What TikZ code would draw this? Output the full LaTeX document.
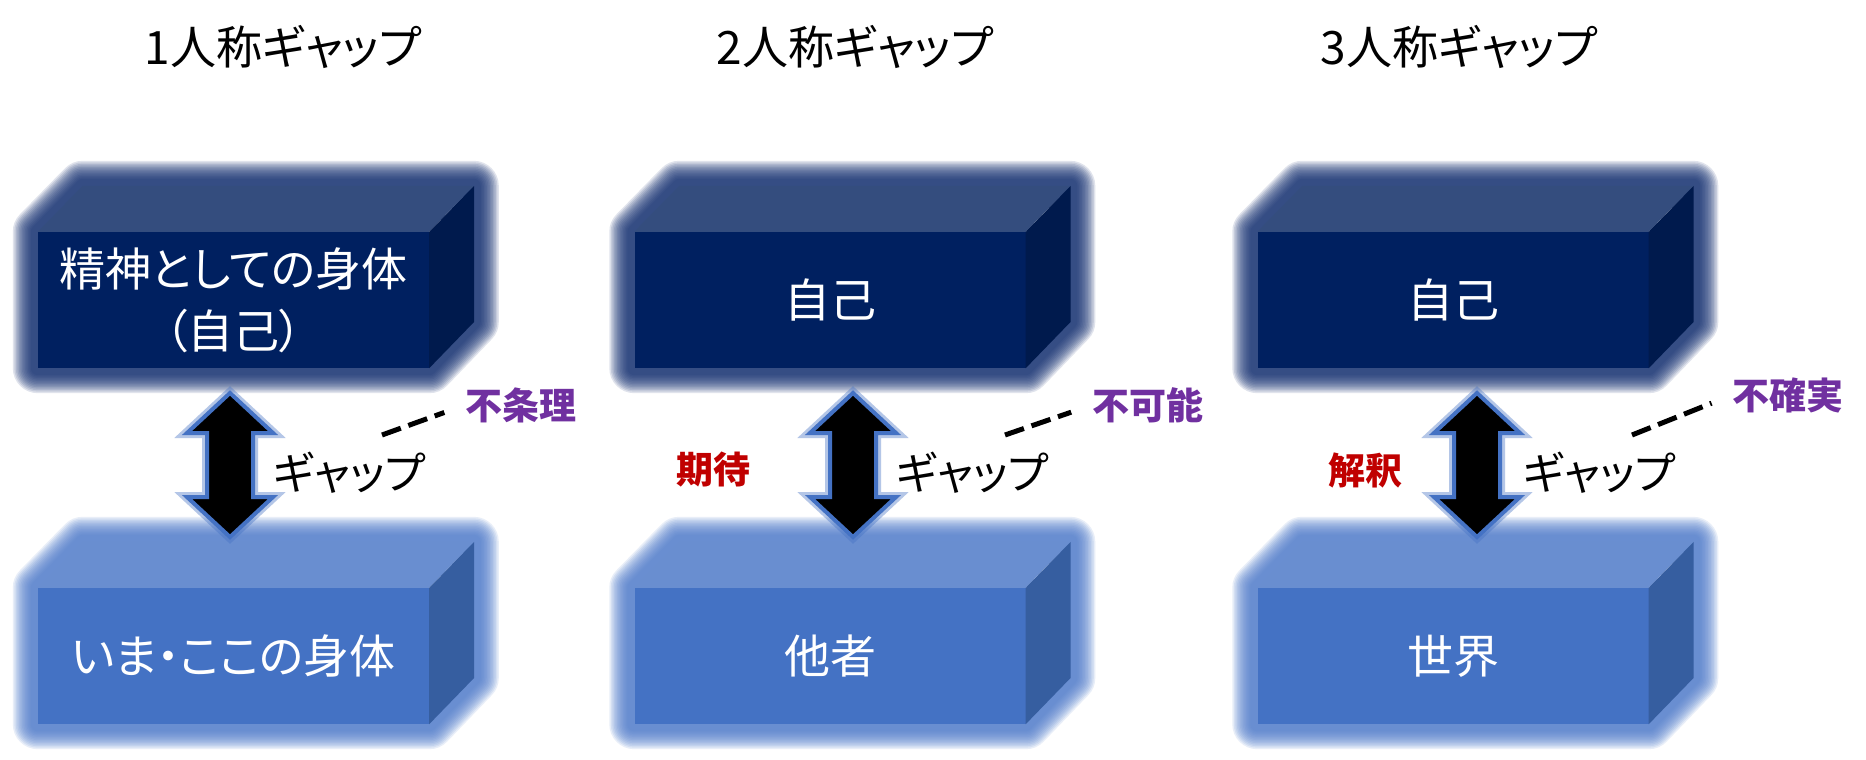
\documentclass[tikz,border=0pt]{standalone}
\usepackage{fontspec}
\setmainfont{Noto Sans CJK JP}[RawFeature=+palt]
\usetikzlibrary{backgrounds}

\definecolor{darkfront}{RGB}{0,32,96}
\definecolor{darktop}{RGB}{52,77,126}
\definecolor{darkside}{RGB}{0,26,77}
\definecolor{darkglow}{RGB}{18,46,112}
\definecolor{lightfront}{RGB}{68,114,196}
\definecolor{lighttop}{RGB}{105,142,208}
\definecolor{lightside}{RGB}{54,94,160}
\definecolor{lightglow}{RGB}{79,124,204}
\definecolor{arrowblue}{RGB}{68,114,196}
\definecolor{notepurple}{RGB}{112,48,160}
\definecolor{notered}{RGB}{192,0,0}

\newcommand{\titlefont}{\fontsize{46}{54}\selectfont}
\newcommand{\boxfont}{\fontsize{46}{62}\selectfont}
\newcommand{\gapfont}{\fontsize{44}{52}\selectfont}
\newcommand{\notefont}{\fontsize{37}{44}\selectfont\bfseries}

\begin{document}
\begin{tikzpicture}[
    x=1pt, y=-1pt,
    title/.style={font=\titlefont, inner sep=0pt},
    darkbox/.style={
        rectangle, fill=darkfront, minimum width=391pt, minimum height=136pt,
        inner sep=0pt, text=white, align=center, font=\boxfont
    },
    lightbox/.style={darkbox, fill=lightfront},
    gaplabel/.style={font=\gapfont, inner sep=0pt, anchor=west},
    reason/.style={font=\notefont, text=notepurple, inner sep=0pt, anchor=west},
    attitude/.style={font=\notefont, text=notered, inner sep=0pt},
    bigarrow/.style={
        fill=black, draw=arrowblue, line width=4pt, line join=miter,
        preaction={draw=arrowblue, line width=10pt, opacity=0.4}
    },
    dashlink/.style={draw=black, line width=5pt, dash pattern=on 20pt off 8pt, shorten >=22pt}
]
\useasboundingbox (0,0) rectangle (1866,760);
\begin{pgfonlayer}{background}
    \fill[white] (0,0) rectangle (1866,760);
\end{pgfonlayer}

% ==================== TITLES ====================
\node[title] (titleA) at (283,47) {1人称ギャップ};
\node[title] (titleB) at (855,47) {2人称ギャップ};
\node[title] (titleC) at (1459,47) {3人称ギャップ};

% ==================== BOXES ====================
% 1人称
\node[darkbox] (selfA) at (233.5,300) {精神としての身体\\（自己）};
\node[lightbox] (bodyA) at (233.5,656) {いま・ここの身体};
% 2人称
\node[darkbox] (selfB) at (830,300) {自己};
\node[lightbox] (otherB) at (830,656) {他者};
% 3人称
\node[darkbox] (selfC) at (1453,300) {自己};
\node[lightbox] (worldC) at (1453,656) {世界};

% top and side faces, soft glow behind
\foreach \b/\tone in {selfA/dark, bodyA/light, selfB/dark, otherB/light, selfC/dark, worldC/light} {
    \begin{pgfonlayer}{background}
        \foreach \w in {50,47,...,14}
            \draw[draw=\tone glow, line width=\w pt, line join=round, opacity=0.13]
                (\b.south west) -- (\b.north west) -- ++(45,-46) -- ++(391,0)
                -- ++(0,136) -- (\b.south east) -- cycle;
    \end{pgfonlayer}
    \fill[fill=\tone top] (\b.north west) -- ++(45,-46) -- ++(391,0) -- (\b.north east) -- cycle;
    \fill[fill=\tone side] (\b.north east) -- ++(45,-46) -- ++(0,136) -- (\b.south east) -- cycle;
}

% ==================== ARROWS ====================
\coordinate (arrA) at (230,465);
\coordinate (arrB) at (853,465);
\coordinate (arrC) at (1477,465);
\foreach \a in {arrA, arrB, arrC}
    \draw[bigarrow] (\a) ++(0,-72) -- ++(43,40) -- ++(-20,0) -- ++(0,64) -- ++(20,0)
        -- ++(-43,40) -- ++(-43,-40) -- ++(20,0) -- ++(0,-64) -- ++(-20,0) -- cycle;

% ==================== LABELS ====================
\node[gaplabel] (gapA) at (273,473) {ギャップ};
\node[gaplabel] (gapB) at (896,473) {ギャップ};
\node[gaplabel] (gapC) at (1523,473) {ギャップ};

\node[reason] (whyA) at (465,405) {不条理};
\node[reason] (whyB) at (1092,405) {不可能};
\node[reason] (whyC) at (1732,395) {不確実};

\node[attitude] (hopeB) at (713,470) {期待};
\node[attitude] (readC) at (1365,470) {解釈};

% dashed links
\draw[dashlink] ([shift={(109,-38)}]gapA.west) -- (whyA.west);
\draw[dashlink] ([shift={(109,-38)}]gapB.west) -- (whyB.west);
\draw[dashlink] ([shift={(109,-38)}]gapC.west) -- (whyC.west);

\end{tikzpicture}
\end{document}
